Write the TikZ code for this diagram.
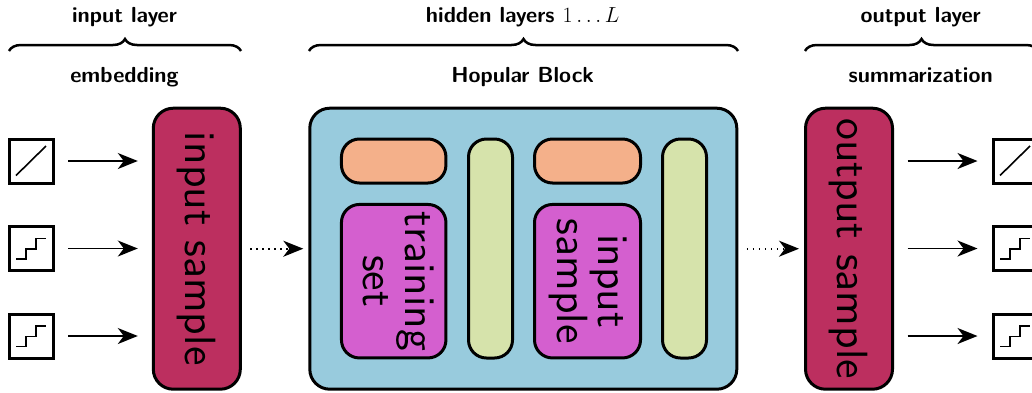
\RequirePackage{fix-cm}
\documentclass[tikz,border=0pt]{standalone}
\usepackage[no-math]{fontspec}
\newfontface\lmsten{lmsans10-regular.otf}
\usetikzlibrary{arrows.meta,decorations.pathreplacing}
\definecolor{cred}{HTML}{BC2F5F}
\definecolor{cblue}{HTML}{98CBDD}
\definecolor{corange}{HTML}{F4B08A}
\definecolor{cgreen}{HTML}{D6E3AB}
\definecolor{cpurple}{HTML}{D45FCF}
\tikzset{
  box/.style={draw=black,line width=3pt,rounded corners=20pt,outer sep=0pt,inner sep=0pt,rotate=-90},
  bigbox/.style={box,fill=cred,minimum width=281pt,minimum height=87pt,text height=23.4pt,text depth=0pt,font=\lmsten\fontsize{43.7}{41.5}\selectfont},
  hiddenbox/.style={draw=black,line width=3pt,rounded corners=20pt,outer sep=0pt,fill=cblue,minimum width=427pt,minimum height=281pt},
  orangebox/.style={draw=black,line width=3pt,rounded corners=18pt,outer sep=0pt,fill=corange,minimum height=44pt},
  greenbox/.style={box,rounded corners=18pt,fill=cgreen,minimum width=219pt,minimum height=44pt},
  purplebox/.style={box,rounded corners=18pt,fill=cpurple,minimum width=153.5pt,align=center,text height=60.4pt,text depth=0pt,font=\lmsten\fontsize{43.7}{41.5}\selectfont},
  icon/.style={draw=black,fill=white,line width=3pt,outer sep=0pt,minimum width=44pt,minimum height=44pt},
  heading/.style={anchor=base,inner sep=0pt,font=\sffamily\bfseries\fontsize{21.8}{25}\selectfont},
  brace/.style={decorate,decoration={brace,amplitude=12pt,aspect=0.5},line width=2.5pt},
  arr/.style={-{Stealth[length=20pt,width=16pt,inset=6pt]},line width=1.6pt,shorten <=15pt,shorten >=15.5pt},
  dotarr/.style={-{Stealth[length=20pt,width=16pt,inset=6pt]},line width=1.6pt,dash pattern=on 1.6pt off 4.4pt,shorten <=10pt,shorten >=6.5pt},
  glyph/.style={line width=1.6pt}
}
\newcommand{\stairs}[1]{\draw[glyph] ([shift={(-15,10.5)}]#1.center) -- ++(10,0) -- ++(0,-10) -- ++(10,0) -- ++(0,-10.5) -- ++(10,0);}
\begin{document}
\begin{tikzpicture}[x=1pt,y=-1pt]
\useasboundingbox (0,0) rectangle (1032,392);
\clip (0,0) rectangle (1032,392);
% headings
\node[heading] (h1) at (124.5,22) {input layer};
\node[heading] (h2) at (522.7,22) {hidden layers $1\dots L$};
\node[heading] (h3) at (920.7,22) {output layer};
\node[heading] (s1) at (124.5,82) {embedding};
\node[heading] (s2) at (522.7,82) {Hopular Block};
\node[heading] (s3) at (920.7,82) {summarization};
% braces
\coordinate (b1l) at (9,51); \coordinate (b1r) at (241,51);
\coordinate (b2l) at (309,51); \coordinate (b2r) at (738,51);
\coordinate (b3l) at (805,51); \coordinate (b3r) at (1038,51);
\draw[brace] (b1l) -- (b1r);
\draw[brace] (b2l) -- (b2r);
\draw[brace] (b3l) -- (b3r);
% main blocks
\node[bigbox] (inbox) at (196.8,248.7) {input sample};
\node[hiddenbox] (hid) at (523.3,248.7) {};
\node[bigbox] (outbox) at (849,248.7) {output sample};
% inner blocks
\node[orangebox,minimum width=104.5pt] (o1) at (393.7,161) {};
\node[greenbox] (g1) at (490.5,248.5) {};
\node[purplebox,minimum height=104.5pt] (p1) at (393.7,281.2) {training\\set};
\node[orangebox,minimum width=106pt] (o2) at (587.5,161) {};
\node[greenbox] (g2) at (684.5,248.5) {};
\node[purplebox,minimum height=106pt] (p2) at (587.5,281.2) {input\\sample};
% input icons
\node[icon] (a1) at (31,161) {};
\node[icon] (a2) at (31,248.5) {};
\node[icon] (a3) at (31,336) {};
\draw[glyph] ([shift={(-15,14.5)}]a1.center) -- ([shift={(15,-15)}]a1.center);
\stairs{a2}
\stairs{a3}
% output icons
\node[icon] (c1) at (1015,161) {};
\node[icon] (c2) at (1015,248.5) {};
\node[icon] (c3) at (1015,336) {};
\draw[glyph] ([shift={(-15,14.5)}]c1.center) -- ([shift={(15,-15)}]c1.center);
\stairs{c2}
\stairs{c3}
% connectors (boxes are turned clockwise: their south side faces left)
\draw[arr] (a1.east) -- (a1.east -| inbox.south);
\draw[arr] (a2.east) -- (a2.east -| inbox.south);
\draw[arr] (a3.east) -- (a3.east -| inbox.south);
\draw[arr] (c1.west -| outbox.north) -- (c1.west);
\draw[arr] (c2.west -| outbox.north) -- (c2.west);
\draw[arr] (c3.west -| outbox.north) -- (c3.west);
\draw[dotarr] (inbox.north) -- (hid.west);
\draw[dotarr] (hid.east) -- (outbox.south);
\end{tikzpicture}
\end{document}
